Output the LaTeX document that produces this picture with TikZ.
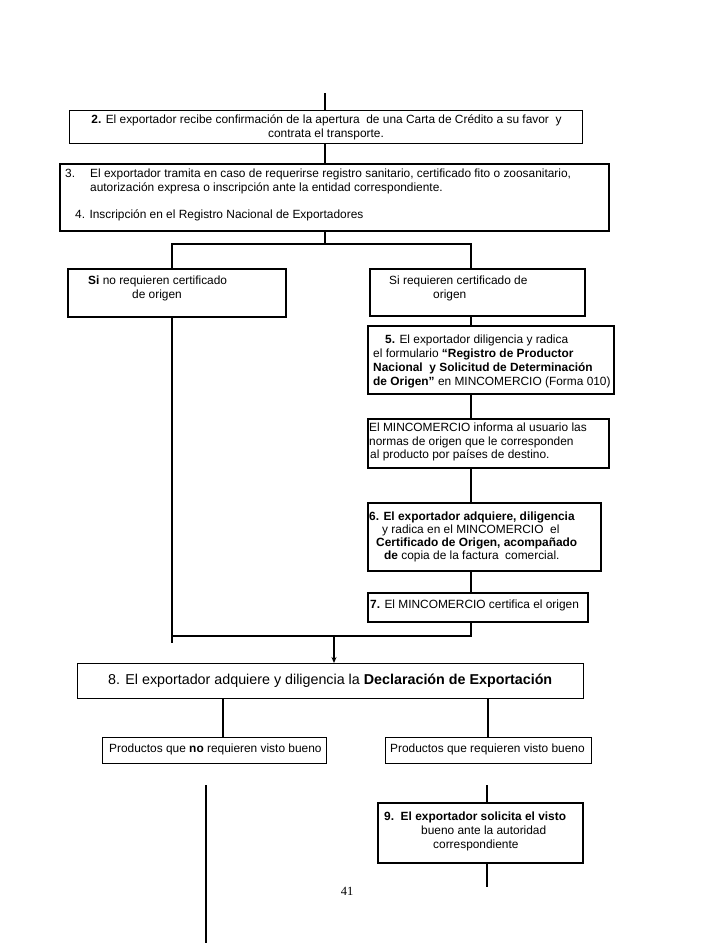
\documentclass[tikz,border=0pt]{standalone}
\usepackage{fontspec}
\setmainfont{Liberation Sans}
\newfontfamily\serifpn{Liberation Serif}
\usetikzlibrary{arrows.meta}
\newcommand\fsn{\fontsize{11.9}{14}\selectfont}
\newcommand\fsb{\fontsize{14.3}{17}\selectfont}
\begin{document}
\begin{tikzpicture}[x=1pt,y=-1pt,
  box/.style={draw=black, inner sep=0pt, anchor=north west},
  thinbox/.style={box, line width=1.2pt},
  midbox/.style={box, line width=1.5pt},
  thickbox/.style={box, line width=2.4pt},
  txt/.style={inner sep=0pt, font=\fsn, anchor=mid west},
  ctxt/.style={inner sep=0pt, font=\fsn, anchor=mid},
  thickline/.style={line width=2.4pt},
  thinline/.style={line width=1.1pt},
  midline/.style={line width=1.5pt}
]
\useasboundingbox (0,0) rectangle (728,943);

% ---- boxes
\node[thinbox, minimum width=513pt, minimum height=33pt] (b2) at (69,110) {};
\node[thickbox, minimum width=549pt, minimum height=67pt] (b3) at (59,163) {};
\node[thickbox, line width=2.2pt, minimum width=218pt, minimum height=48pt] (siL) at (67,268) {};
\node[thickbox, line width=2.2pt, minimum width=215pt, minimum height=47pt] (siR) at (369,268) {};
\node[thickbox, minimum width=246pt, minimum height=68pt] (b5) at (367,325) {};
\node[thickbox, minimum width=241pt, minimum height=49pt] (bM) at (367,418) {};
\node[thickbox, minimum width=233pt, minimum height=68pt] (b6) at (367,502) {};
\node[thickbox, minimum width=220pt, minimum height=29pt] (b7) at (367,592) {};
\node[thinbox, minimum width=506pt, minimum height=35pt] (b8) at (77,663) {};
\node[midbox, line width=1.3pt, minimum width=224pt, minimum height=26pt] (pL) at (102,737) {};
\node[midbox, line width=1.3pt, minimum width=206pt, minimum height=26pt] (pR) at (385,737) {};
\node[midbox, minimum width=205pt, minimum height=60pt] (b9) at (377,802) {};

% ---- texts
\node[ctxt] (t2a) at (326.5,121) {\textbf{2.} El exportador recibe confirmación de la apertura\ \ de una Carta de Crédito a su favor\ \ y};
\node[ctxt] (t2b) at (326,135) {contrata el transporte.};

\node[txt] (t3n) at (65,175) {3.};
\node[txt] (t3a) at (90,175) {El exportador tramita en caso de requerirse registro sanitario, certificado fito o zoosanitario,};
\node[txt] (t3b) at (90,189) {autorización expresa o inscripción ante la entidad correspondiente.};
\node[txt] (t4) at (75,216) {4. Inscripción en el Registro Nacional de Exportadores};

\node[txt] (sLa) at (88,282) {\textbf{Si} no requieren certificado};
\node[txt] (sLb) at (132,296) {de origen};
\node[txt] (sRa) at (389,282) {Si requieren certificado de};
\node[txt] (sRb) at (433,296) {origen};

\node[txt] (t5a) at (385,341) {\textbf{5.} El exportador diligencia y radica};
\node[txt] (t5b) at (373,355) {el formulario \textbf{“Registro de Productor}};
\node[txt] (t5c) at (373,369) {\textbf{Nacional\ \ y Solicitud de Determinación}};
\node[txt] (t5d) at (373,383) {\textbf{de Origen”} en MINCOMERCIO (Forma 010)};

\node[txt] (tMa) at (369,429) {El MINCOMERCIO informa al usuario las};
\node[txt] (tMb) at (369,443) {normas de origen que le corresponden};
\node[txt] (tMc) at (370,456) {al producto por países de destino.};

\node[txt] (t6a) at (369,518) {\textbf{6. El exportador adquiere, diligencia}};
\node[txt] (t6b) at (382,531) {y radica en el MINCOMERCIO\ \ el};
\node[txt] (t6c) at (376,544) {\textbf{Certificado de Origen, acompañado}};
\node[txt] (t6d) at (384,557) {\textbf{de} copia de la factura\ \ comercial.};

\node[txt] (t7) at (370,606) {\textbf{7.} El MINCOMERCIO certifica el origen};

\node[txt, font=\fsb] (t8) at (108,682) {8. El exportador adquiere y diligencia la \textbf{Declaración de Exportación}};

\node[txt] (tpL) at (109,750) {Productos que \textbf{no} requieren visto bueno};
\node[txt] (tpR) at (390,750) {Productos que requieren visto bueno};

\node[txt] (t9a) at (384,818) {\textbf{9.\ \ El exportador solicita el visto}};
\node[txt] (t9b) at (421,832) {bueno ante la autoridad};
\node[txt] (t9c) at (433,846) {correspondiente};

\node[inner sep=0pt, anchor=mid, font=\serifpn\fontsize{12.5}{14}\selectfont] (pg) at (347,893) {41};

% ---- coordinates
\coordinate (top) at (325,93);
\coordinate (j1) at (325,244);
\coordinate (cL) at (172,244);
\coordinate (cR) at (471,244);
\coordinate (lend) at (172,643);
\coordinate (hb) at (172,636);
\coordinate (ar) at (334,636);
\coordinate (xl) at (223,700);
\coordinate (xr) at (488,700);
\coordinate (lt) at (206,785);
\coordinate (lb) at (206,943);
\coordinate (rt) at (487,785);
\coordinate (rb) at (487,887);

% ---- connectors
\draw[thickline, line width=2pt] (top) -- (top |- b2.north);
\draw[thickline, line width=2pt] (b2.south -| top) -- (b3.north -| top);
\draw[thickline] (b3.south -| j1) -- (j1);
\draw[thickline] (siL.north -| cL) |- (cR) -- (siR.north -| cR);
\draw[thickline] (siL.south -| cL) -- (lend);
\draw[thickline] (siR.south -| cR) -- (b5.north -| cR);
\draw[thickline] (b5.south -| cR) -- (bM.north -| cR);
\draw[thickline] (bM.south -| cR) -- (b6.north -| cR);
\draw[thickline] (b6.south -| cR) -- (b7.north -| cR);
\draw[thickline] (b7.south -| cR) |- (hb);
\draw[thinline, -{Stealth[length=6pt,width=5pt]}] (ar) -- (ar |- b8.north);
\draw[thinline] (b8.south -| xl) -- (pL.north -| xl);
\draw[thinline] (b8.south -| xr) -- (pR.north -| xr);
\draw[midline] (lt) -- (lb);
\draw[midline] (rt) -- (b9.north -| rt);
\draw[midline] (b9.south -| rt) -- (rb);
\end{tikzpicture}
\end{document}
